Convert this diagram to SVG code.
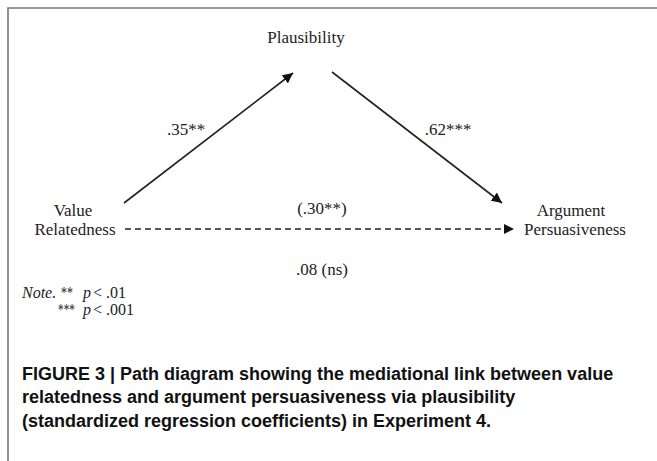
<svg xmlns="http://www.w3.org/2000/svg" width="657" height="461" viewBox="0 0 657 461">
<style>
.t{font-family:"Liberation Serif","Times New Roman",serif;font-size:17px;fill:#222}
.n{font-size:16px}
.i{font-style:italic}
.c{font-family:"Liberation Sans",Arial,sans-serif;font-size:18px;font-weight:bold;fill:#111}
.ln{stroke:#222;stroke-width:1.6;fill:none}
</style>
<defs>
<marker id="ah" viewBox="0 0 10 10" refX="10" refY="5" markerWidth="6.5" markerHeight="6.5" orient="auto" markerUnits="strokeWidth">
<path d="M0,0 L10,5 L0,10 z" fill="#111"/>
</marker>
</defs>
<rect width="657" height="461" fill="#fff"/>
<path d="M8,461 V8 H657" stroke="#777" stroke-width="1.6" fill="none"/>
<g id="plausibility"><text class="t" x="306" y="43" text-anchor="middle">Plausibility</text></g>
<g id="value"><text class="t" x="73" y="216" text-anchor="middle">Value</text><text class="t" x="75" y="235" text-anchor="middle">Relatedness</text></g>
<g id="argument"><text class="t" x="571" y="216" text-anchor="middle">Argument</text><text class="t" x="575" y="235" text-anchor="middle">Persuasiveness</text></g>
<g id="connectors">
<line class="ln" x1="124" y1="203" x2="293" y2="73" marker-end="url(#ah)"/>
<line class="ln" x1="332" y1="72" x2="502" y2="203" marker-end="url(#ah)"/>
<line class="ln" x1="125" y1="229" x2="514" y2="229" stroke-dasharray="6,4" marker-end="url(#ah)"/>
<text class="t" x="186" y="135" text-anchor="middle">.35**</text>
<text class="t" x="448" y="135" text-anchor="middle">.62***</text>
<text class="t" x="322" y="214" text-anchor="middle">(.30**)</text>
<text class="t" x="322" y="275" text-anchor="middle">.08 (ns)</text>
</g>
<g id="note">
<text class="t n i" x="22" y="298">Note.</text>
<text class="t n" x="61" y="298" textLength="12" lengthAdjust="spacingAndGlyphs">**</text>
<text class="t n i" x="83" y="298">p</text><text class="t n" x="93" y="298">&lt; .01</text>
<text class="t n" x="58" y="315" textLength="17" lengthAdjust="spacingAndGlyphs">***</text>
<text class="t n i" x="83" y="315">p</text><text class="t n" x="93" y="315">&lt; .001</text>
</g>
<g id="caption">
<text class="c" x="22" y="380">FIGURE 3 | Path diagram showing the mediational link between value</text>
<text class="c" x="22" y="403">relatedness and argument persuasiveness via plausibility</text>
<text class="c" x="22" y="427">(standardized regression coefficients) in Experiment 4.</text>
</g>
</svg>
